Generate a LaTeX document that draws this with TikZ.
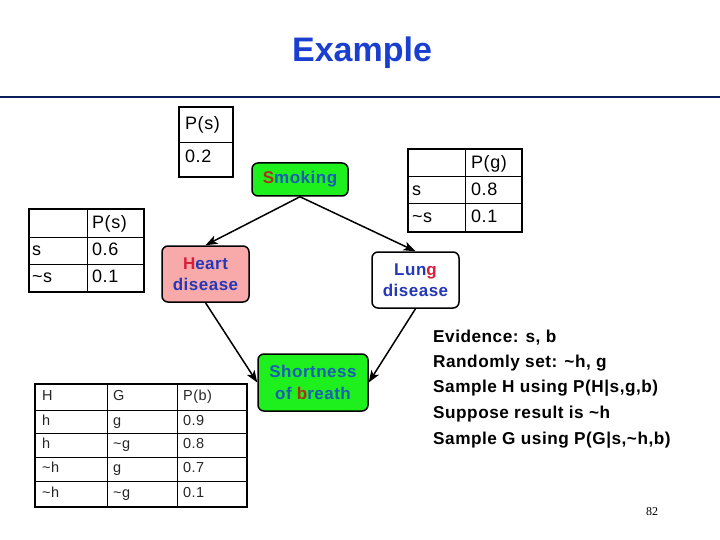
\documentclass[tikz,border=0pt]{standalone}
\usepackage{fontspec}
\setmainfont{Liberation Sans}
\newfontfamily\wide[LetterSpace=3]{Liberation Sans}
\newfontfamily\pgnum{Liberation Serif}
\usetikzlibrary{arrows.meta}
\definecolor{ttl}{HTML}{1A3FD0}
\definecolor{navyline}{HTML}{0A1E5A}
\definecolor{lime}{HTML}{1EF01E}
\definecolor{pinkfill}{HTML}{F8AAAA}
\definecolor{nblue}{HTML}{2438B8}
\definecolor{gblue}{HTML}{1A5FB4}
\definecolor{nred}{HTML}{D81E3C}
\definecolor{gred}{HTML}{B03018}
\tikzset{
  tblframe/.style={draw=black, line width=1.6pt},
  tblline/.style={draw=black, line width=1pt},
  cell/.style={anchor=west, inner sep=0pt, text height=12pt, text depth=3pt, font=\wide\fontsize{18}{20}\selectfont},
  cptcell/.style={anchor=west, inner sep=0pt, text height=10pt, text depth=2.5pt, text=black!85, font=\wide\fontsize{14.5}{16}\selectfont},
  bnode/.style={draw=black, line width=1.5pt, rounded corners=6pt, inner sep=0pt, align=center, font=\wide\bfseries\fontsize{17}{21.5}\selectfont},
  conn/.style={-{Stealth[length=12pt,width=9pt,inset=3pt]}, line width=1.5pt},
  evtext/.style={anchor=west, inner sep=0pt, text height=12pt, text depth=3.5pt, font=\wide\bfseries\fontsize{17.2}{20}\selectfont}
}
\begin{document}
\begin{tikzpicture}[x=1pt,y=-1pt]
\useasboundingbox (0,0) rectangle (720,540);
% title
\node[text=ttl, font=\bfseries\fontsize{34}{40}\selectfont] (title) at (362,53) {Example};
\draw[navyline, line width=2.5pt] (0,97) -- (720,97);

% P(s) top table
\draw[tblframe] (179,107) rectangle (233,177);
\draw[tblline] (179,143) -- (233,143);
\node[cell] (t1a) at (185,125) {P(s)};
\node[cell] (t1b) at (185,158) {0.2};

% left table
\draw[tblframe] (29,209) rectangle (144,292);
\draw[tblline] (87,209) -- (87,292);
\draw[tblline] (29,237) -- (144,237);
\draw[tblline] (29,264) -- (144,264);
\node[cell] (t2h) at (92,224) {P(s)};
\node[cell] (t2a) at (32,251) {s};
\node[cell] (t2b) at (92,251) {0.6};
\node[cell] (t2c) at (32,278) {\textasciitilde s};
\node[cell] (t2d) at (92,278) {0.1};

% P(g) table
\draw[tblframe] (408,149) rectangle (522,232);
\draw[tblline] (465,149) -- (465,232);
\draw[tblline] (408,177) -- (522,177);
\draw[tblline] (408,204) -- (522,204);
\node[cell] (t3h) at (471,164) {P(g)};
\node[cell] (t3a) at (412,191) {s};
\node[cell] (t3b) at (471,191) {0.8};
\node[cell] (t3c) at (412,218) {\textasciitilde s};
\node[cell] (t3d) at (471,218) {0.1};

% CPT table
\draw[tblframe] (35,384) rectangle (247,507);
\draw[tblline] (107,384) -- (107,507);
\draw[tblline] (177,384) -- (177,507);
\foreach \yy in {410,433,457,481} \draw[tblline] (35,\yy) -- (247,\yy);
\node[cptcell] (c0a) at (42,397) {H};
\node[cptcell] (c0b) at (113,397) {G};
\node[cptcell] (c0c) at (183,397) {P(b)};
\node[cptcell] (c1a) at (42,421.5) {h};
\node[cptcell] (c1b) at (113,421.5) {g};
\node[cptcell] (c1c) at (183,421.5) {0.9};
\node[cptcell] (c2a) at (42,445) {h};
\node[cptcell] (c2b) at (113,445) {\textasciitilde g};
\node[cptcell] (c2c) at (183,445) {0.8};
\node[cptcell] (c3a) at (42,469) {\textasciitilde h};
\node[cptcell] (c3b) at (113,469) {g};
\node[cptcell] (c3c) at (183,469) {0.7};
\node[cptcell] (c4a) at (42,494) {\textasciitilde h};
\node[cptcell] (c4b) at (113,494) {\textasciitilde g};
\node[cptcell] (c4c) at (183,494) {0.1};

% BN nodes
\node[bnode, fill=lime, text=gblue, minimum width=96pt, minimum height=33pt] (smoke) at (300,179.5) {{\color{gred}S}moking};
\node[bnode, fill=pinkfill, text=nblue, minimum width=87pt, minimum height=56pt] (heart) at (205.5,274) {{\color{nred}H}eart\\disease};
\node[bnode, fill=white, text=nblue, minimum width=87pt, minimum height=56pt] (lung) at (415.5,280) {Lun{\color{nred}g}\\disease};
\node[bnode, fill=lime, text=gblue, minimum width=110pt, minimum height=57pt] (short) at (313,382.5) {Shortness\\of {\color{gred}b}reath};

\draw[conn] (smoke.south) -- (heart.north);
\draw[conn] (smoke.south) -- (lung.north);
\draw[conn] (heart.south) -- (short.west);
\draw[conn] (lung.south) -- (short.east);

% evidence text
\node[evtext] (ev1) at (433,338) {Evidence: s, b};
\node[evtext] (ev2) at (433,363) {Randomly set: \textasciitilde h, g};
\node[evtext] (ev3) at (433,388) {Sample H using P(H|s,g,b)};
\node[evtext] (ev4) at (433,414) {Suppose result is \textasciitilde h};
\node[evtext] (ev5) at (433,440) {Sample G using P(G|s,\textasciitilde h,b)};

% page number
\node[font=\pgnum\fontsize{12}{14}\selectfont] (pg) at (652,512) {82};
\end{tikzpicture}
\end{document}
